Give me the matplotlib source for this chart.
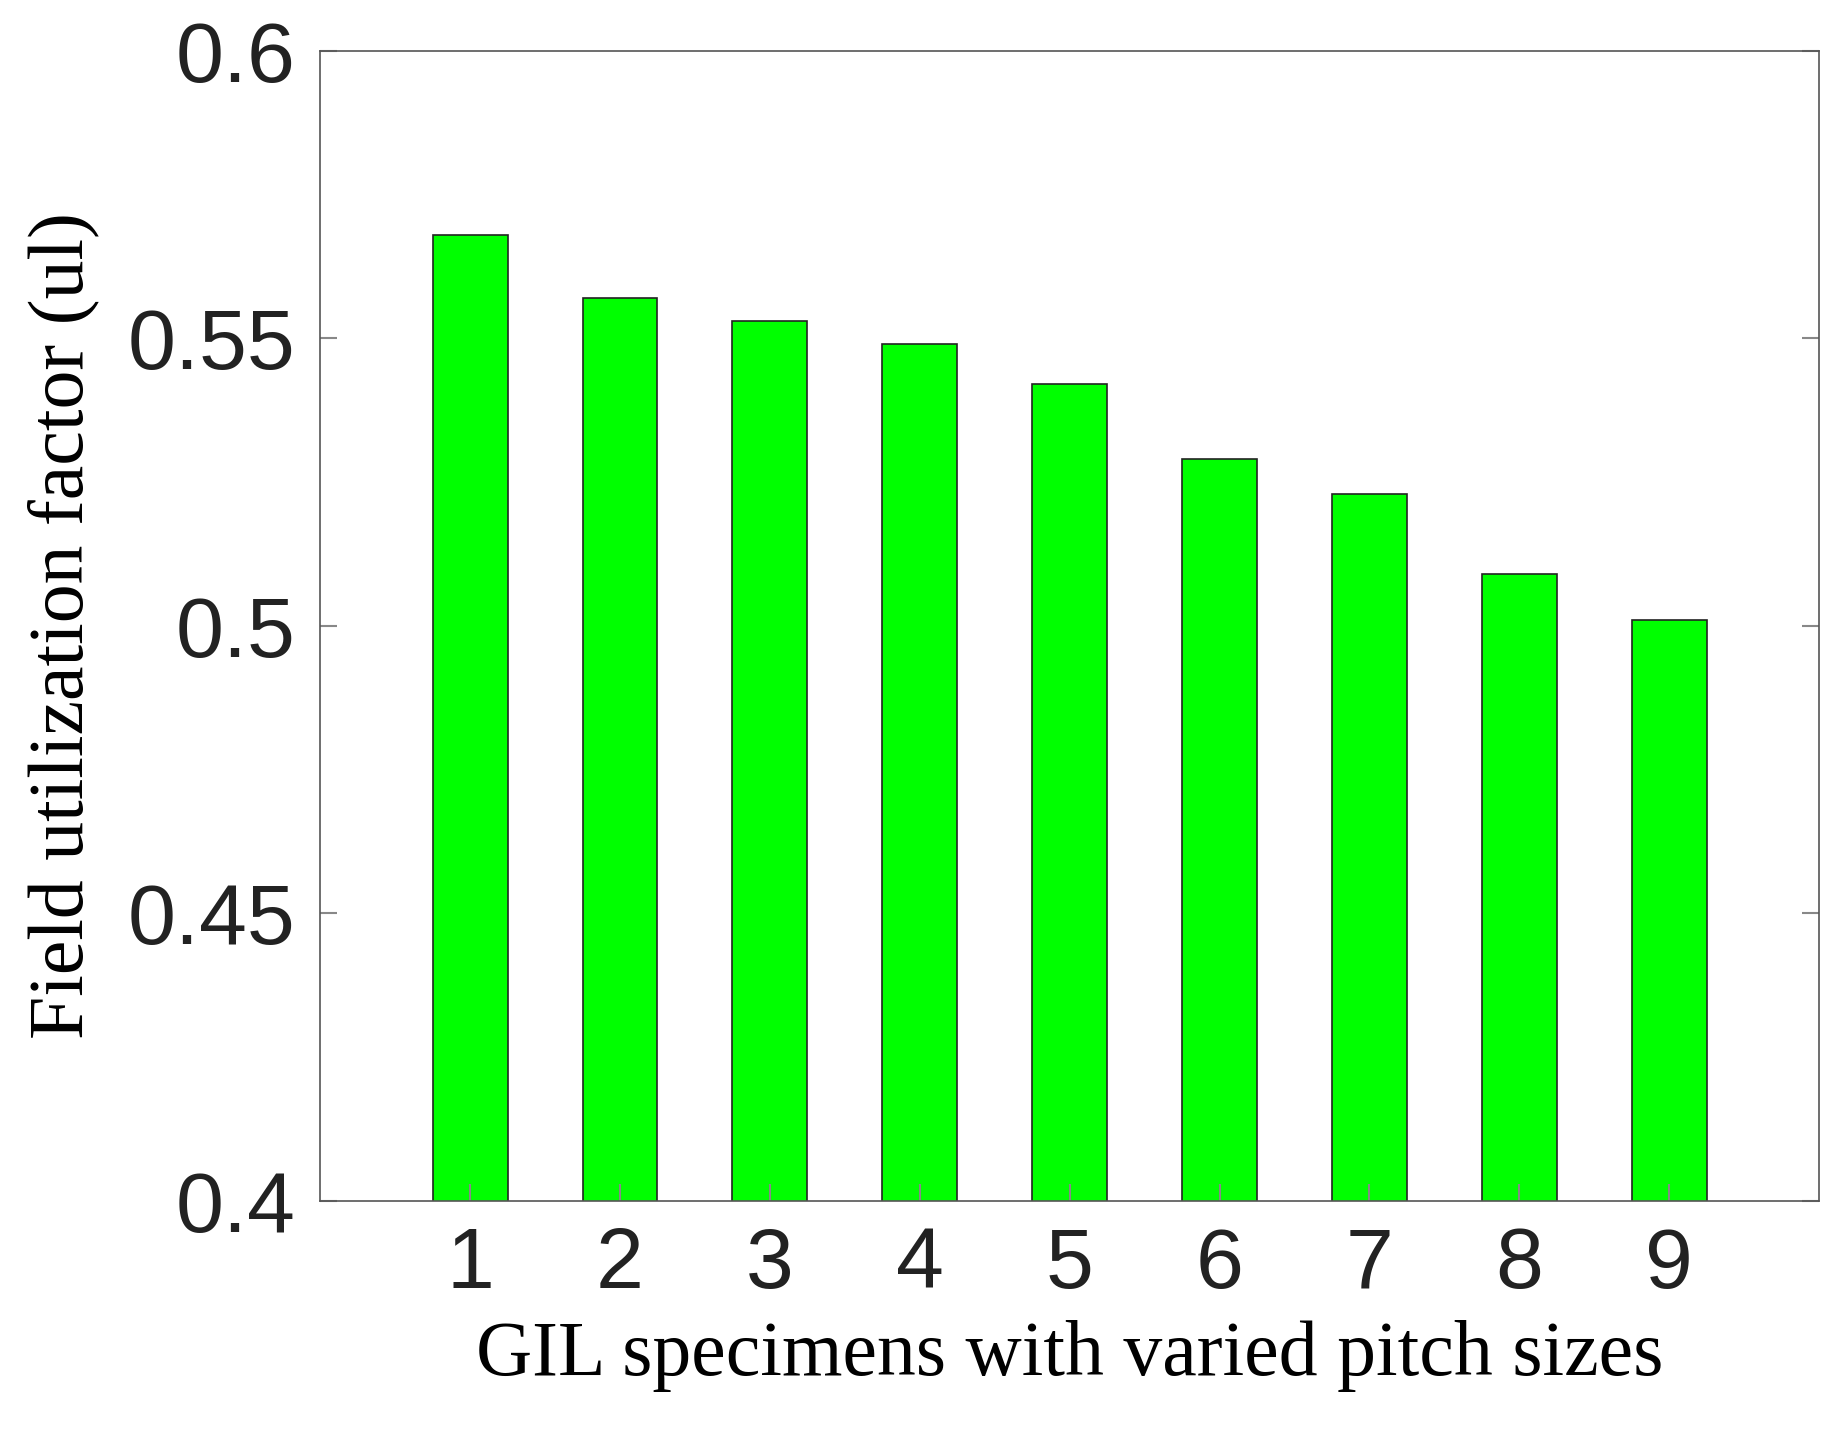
import matplotlib
matplotlib.use("Agg")
import matplotlib.pyplot as plt

specimens = [1, 2, 3, 4, 5, 6, 7, 8, 9]
factor = [0.568, 0.557, 0.553, 0.549, 0.542, 0.529, 0.523, 0.509, 0.501]
yticks = [0.4, 0.45, 0.5, 0.55, 0.6]
yticklabels = ["0.4", "0.45", "0.5", "0.55", "0.6"]

fig = plt.figure(figsize=(18.3, 14.52), dpi=100)
ax = fig.add_axes([0.175, 0.173, 0.819, 0.792])
ax.bar(specimens, factor, width=0.5, bottom=0, color="#00ff00", edgecolor="#222222", linewidth=1.2)
ax.set_xlim(0, 10)
ax.set_ylim(0.4, 0.6)
ax.set_xticks(specimens)
ax.set_yticks(yticks)
ax.set_yticklabels(yticklabels)
ax.tick_params(direction="in", length=12, width=1.5, color="#888888", right=True, top=False,
               labelsize=62, labelcolor="#222222", pad=18)
for lab in ax.get_xticklabels() + ax.get_yticklabels():
    lab.set_family("Liberation Sans")
for s in ax.spines.values():
    s.set_color("#555555")
    s.set_linewidth(1.2)
ax.set_xlabel("GIL specimens with varied pitch sizes", fontsize=56, family="Liberation Serif", labelpad=10)
ax.set_ylabel("Field utilization factor (ul)", fontsize=56, family="Liberation Serif", labelpad=20)
fig.savefig("out.png", dpi=100)
